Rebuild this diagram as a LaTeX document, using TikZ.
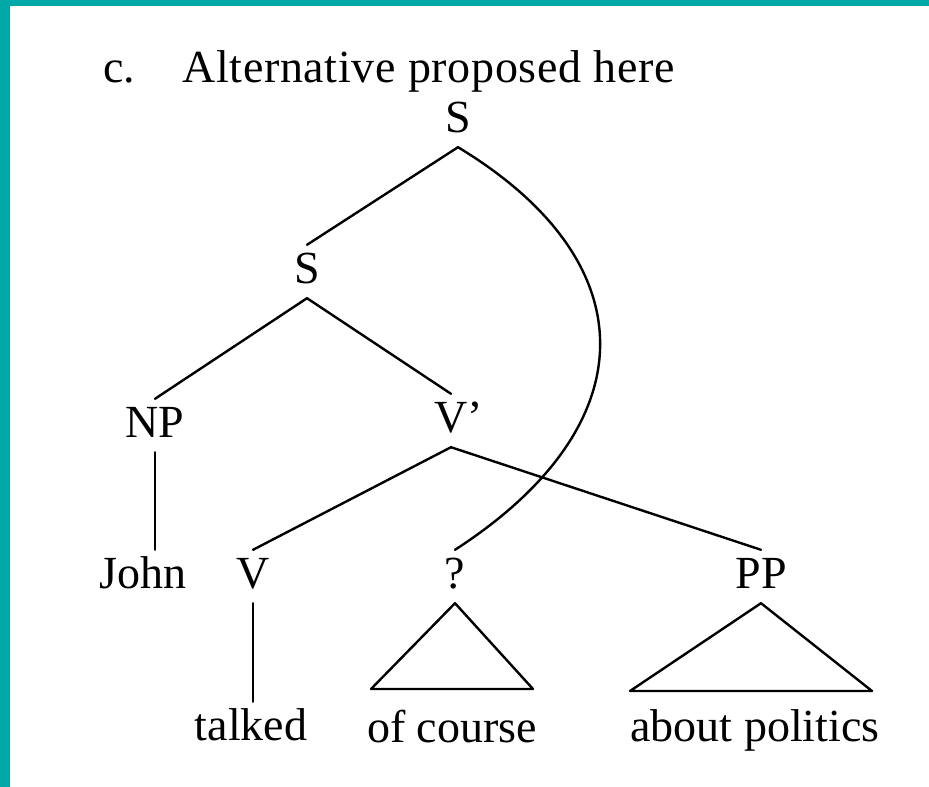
\documentclass[tikz,border=0pt]{standalone}
\usepackage{fontspec}
\setmainfont{Liberation Serif}
\definecolor{frame}{RGB}{0,168,168}
\begin{document}
\begin{tikzpicture}[x=1pt,y=-1pt,
  lab/.style={anchor=base, inner xsep=0pt, inner ysep=8pt, text height=30pt, text depth=7pt, font=\fontsize{46}{50}\selectfont},
  edge/.style={line width=2.4pt, line cap=round, line join=round}]
\useasboundingbox (0,0) rectangle (929,787);
\fill[white] (0,0) rectangle (929,787);
\fill[frame] (0,0) rectangle (10,787);
\fill[frame] (0,0) rectangle (929,6);
% title
\node[lab, anchor=base west] (c) at (103,82) {c.};
\node[lab, anchor=base west] (title) at (182,82) {\addfontfeature{LetterSpace=1.5}Alternative proposed here};
% tree nodes
\node[lab] (s1) at (458,132) {S};
\node[lab] (s2) at (307,283) {S};
\node[lab] (np) at (155,437) {NP};
\node[lab] (vbar) at (451,432) {V\rlap{’}};
\node[lab] (john) at (143,588) {John};
\node[lab] (v) at (253,588) {V};
\node[lab] (q) at (455,588) {?};
\node[lab] (pp) at (761,588) {PP};
\node[lab] (talked) at (251,740) {talked};
\node[lab] (oc) at (452,742) {of course};
\node[lab] (ap) at (755,741) {about politics};
% branches
\draw[edge] (s1.south) -- (s2.north);
\draw[edge] (s1.south) .. controls (648,262) and (648,425) .. (q.north);
\draw[edge] (s2.south) -- (np.north);
\draw[edge] (s2.south) -- (vbar.north);
\draw[edge] (np.south) -- (np.south |- john.north);
\draw[edge] (vbar.south) -- (v.north);
\draw[edge] (vbar.south) -- (pp.north);
\draw[edge] (v.south) -- (v.south |- talked.north);
% triangles
\coordinate (ocl) at (371,689);
\coordinate (ocr) at (533,689);
\draw[edge] (ocl) -- (q.south) -- (ocr) -- cycle;
\coordinate (apl) at (630,691);
\coordinate (apr) at (872,691);
\draw[edge] (apl) -- (pp.south) -- (apr) -- cycle;
\end{tikzpicture}
\end{document}
